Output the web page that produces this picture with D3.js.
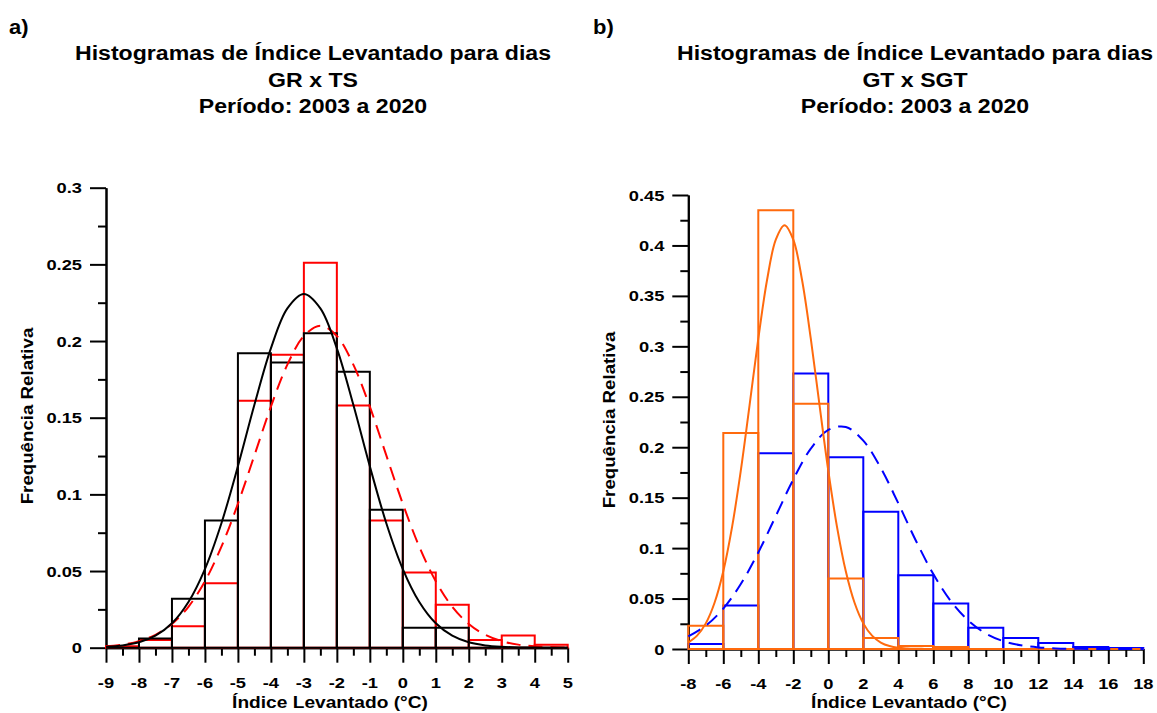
<!DOCTYPE html>
<html><head><meta charset="utf-8">
<script src="https://cdn.jsdelivr.net/npm/d3@7"></script>
<style>
body{margin:0;background:#fff}
svg{display:block}
text{font-family:"Liberation Sans",Arial,sans-serif;font-weight:bold;fill:#000}
</style>
</head><body>
<svg id="chart" width="1157" height="713"></svg>
<script>
// ---------- Panel a) GR x TS ----------
const binStartA = [-9,-8,-7,-6,-5,-4,-3,-2,-1,0,1,2,3,4];
const binWidthA = 1;
const blackFreqA = [0.000,0.006,0.032,0.083,0.192,0.186,0.205,0.180,0.090,0.013,0.013,0.000,0.000,0.000];
const redFreqA   = [0.001,0.005,0.014,0.042,0.161,0.191,0.251,0.158,0.083,0.049,0.028,0.005,0.008,0.002];
const fitXA = [-9,-8.5,-8,-7.5,-7,-6.5,-6,-5.5,-5,-4.5,-4,-3.5,-3,-2.5,-2,-1.5,-1,-0.5,0,0.5,1,1.5,2,2.5,3,3.5,4,4.5,5];
const blackFitA = [0.0006,0.0015,0.0035,0.0078,0.0159,0.0298,0.0513,0.0812,0.1183,0.1584,0.1952,0.2213,0.2307,0.2213,0.1952,0.1584,0.1183,0.0812,0.0513,0.0298,0.0159,0.0078,0.0035,0.0015,0.0006,0.0002,0.0001,0,0];
const redFitA = [0.0009,0.0020,0.0043,0.0084,0.0155,0.0267,0.0433,0.0659,0.0939,0.1254,0.1572,0.1846,0.2033,0.2100,0.2033,0.1846,0.1572,0.1254,0.0939,0.0659,0.0433,0.0267,0.0155,0.0084,0.0043,0.0020,0.0009,0.0004,0.0001];
const xTicksA = [-9,-8,-7,-6,-5,-4,-3,-2,-1,0,1,2,3,4,5];
const xMinorA = [-8.5,-7.5,-6.5,-5.5,-4.5,-3.5,-2.5,-1.5,-0.5,0.5,1.5,2.5,3.5,4.5];
const yTicksA = [0,0.05,0.1,0.15,0.2,0.25,0.3];
const yMinorA = [0.025,0.075,0.125,0.175,0.225,0.275];
const titleA = ["Histogramas de Índice Levantado para dias","GR x TS","Período: 2003 a 2020"];

// ---------- Panel b) GT x SGT ----------
const binStartB = [-8,-6,-4,-2,0,2,4,6,8,10,12,14,16];
const binWidthB = 2;
const blueFreqB   = [0.005,0.043,0.194,0.273,0.190,0.136,0.073,0.045,0.021,0.011,0.006,0.002,0.001];
const orangeFreqB = [0.023,0.214,0.435,0.243,0.070,0.011,0.003,0.002,0.000,0.000,0.000,0.000,0.000];
const fitXBlueB = [-8,-7,-6,-5,-4,-3,-2,-1,0,1,2,3,4,5,6,7,8,9,10,11,12,13,14,15,16,17,18];
const blueFitB = [0.0124,0.0231,0.0401,0.0644,0.0957,0.1318,0.1681,0.1986,0.2172,0.2201,0.2065,0.1794,0.1444,0.1076,0.0743,0.0475,0.0282,0.0154,0.0078,0.0037,0.0016,0.0006,0.0002,0.0001,0,0,0];
const fitXOrangeB = [-8,-7.5,-7,-6.5,-6,-5.5,-5,-4.5,-4,-3.5,-3,-2.5,-2,-1.5,-1,-0.5,0,0.5,1,1.5,2,2.5,3,3.5,4,4.5,5,5.5,6];
const orangeFitB = [0.0064,0.0132,0.0254,0.0458,0.0770,0.1208,0.1767,0.2414,0.3076,0.3657,0.4057,0.4200,0.4057,0.3657,0.3076,0.2414,0.1767,0.1208,0.0770,0.0458,0.0254,0.0132,0.0064,0.0029,0.0012,0.0005,0.0002,0.0001,0];
const xTicksB = [-8,-6,-4,-2,0,2,4,6,8,10,12,14,16,18];
const xMinorB = [-7,-5,-3,-1,1,3,5,7,9,11,13,15,17];
const yTicksB = [0,0.05,0.1,0.15,0.2,0.25,0.3,0.35,0.4,0.45];
const yMinorB = [0.025,0.075,0.125,0.175,0.225,0.275,0.325,0.375,0.425];
const titleB = ["Histogramas de Índice Levantado para dias","GT x SGT","Período: 2003 a 2020"];

const xLabel = "Índice Levantado (°C)";
const yLabel = "Frequência Relativa";

const svg = d3.select("#chart");

function stext(parent, x, y, str, size, sx, anchor, rot) {
  return parent.append("text")
    .attr("transform", `translate(${x},${y})` + (rot ? ` rotate(${rot})` : "") + ` scale(${sx},1)`)
    .attr("font-size", size)
    .attr("text-anchor", anchor || "middle")
    .text(str);
}

function panel(cfg) {
  const g = svg.append("g");
  const x = d3.scaleLinear().domain(cfg.xDomain).range([cfg.left, cfg.right]);
  const y = d3.scaleLinear().domain(cfg.yDomain).range([cfg.bottom, cfg.top]);

  const axStyle = sel => { sel.selectAll("path,line").attr("stroke","#000").attr("stroke-width",2); sel.selectAll("text").remove(); };
  g.append("g").attr("transform",`translate(0,${cfg.bottom})`)
    .call(d3.axisBottom(x).tickValues(cfg.xMinor).tickSize(8).tickSizeOuter(0).tickFormat("")).call(axStyle);
  g.append("g").attr("transform",`translate(0,${cfg.bottom})`)
    .call(d3.axisBottom(x).tickValues(cfg.xTicks).tickSize(15).tickSizeOuter(0).tickFormat("")).call(axStyle);
  g.append("g").attr("transform",`translate(${cfg.left},0)`)
    .call(d3.axisLeft(y).tickValues(cfg.yMinor).tickSize(8).tickSizeOuter(0).tickFormat("")).call(axStyle);
  g.append("g").attr("transform",`translate(${cfg.left},0)`)
    .call(d3.axisLeft(y).tickValues(cfg.yTicks).tickSize(16).tickSizeOuter(0).tickFormat("")).call(axStyle);

  cfg.xTicks.forEach(v => stext(g, x(v), cfg.bottom + 40, String(v), 15.5, 1.18, "middle"));
  cfg.yTicks.forEach(v => stext(g, cfg.left - 24, y(v) + 5.5, String(v), 15.5, 1.18, "end"));

  const barPath = (s, v) => `M${x(s)},${y(0)}V${y(v)}H${x(s + cfg.binWidth)}V${y(0)}Z`;
  cfg.bars.forEach(b => {
    g.append("g").selectAll("path").data(b.values).join("path")
      .attr("d", (v, i) => barPath(cfg.binStart[i], v))
      .attr("fill","none").attr("stroke", b.color).attr("stroke-width", 2);
  });

  cfg.curves.forEach(c => {
    const line = d3.line().x((d,i) => x(c.xs[i])).y(d => y(d)).curve(d3.curveCatmullRom);
    g.append("path").datum(c.values).attr("d", line)
      .attr("fill","none").attr("stroke", c.color).attr("stroke-width", 2)
      .attr("stroke-dasharray", c.dash || null);
  });

  const baselines = [60, 86.5, 113];
  cfg.title.forEach((t, i) => stext(g, cfg.titleX, baselines[i], t, 21, 1.1, "middle"));
  stext(g, cfg.tagX, 34, cfg.tag, 20, 1.1, "start");
  stext(g, cfg.xTitleX, 708, xLabel, 16.5, 1.16, "middle");
  stext(g, cfg.yTitleX, cfg.yTitleY, yLabel, 17, 1.1, "middle", -90);
}

panel({
  xDomain:[-9,5], yDomain:[0,0.3], left:106, right:567.7, top:187.7, bottom:647.7,
  xTicks:xTicksA, xMinor:xMinorA, yTicks:yTicksA, yMinor:yMinorA,
  binStart:binStartA, binWidth:binWidthA,
  bars:[{values:redFreqA,color:"#ff0000"},{values:blackFreqA,color:"#000000"}],
  curves:[{xs:fitXA,values:redFitA,color:"#ff0000",dash:"14,8"},{xs:fitXA,values:blackFitA,color:"#000000"}],
  title:titleA, titleX:313, tag:"a)", tagX:9, xTitleX:330, yTitleX:33, yTitleY:416
});

panel({
  xDomain:[-8,18], yDomain:[0,0.45], left:688.3, right:1143.3, top:195, bottom:649,
  xTicks:xTicksB, xMinor:xMinorB, yTicks:yTicksB, yMinor:yMinorB,
  binStart:binStartB, binWidth:binWidthB,
  bars:[{values:blueFreqB,color:"#0000ff"},{values:orangeFreqB,color:"#ff6a0d"}],
  curves:[{xs:fitXBlueB,values:blueFitB,color:"#0000ff",dash:"14,8"},{xs:fitXOrangeB,values:orangeFitB,color:"#ff6a0d"}],
  title:titleB, titleX:915, tag:"b)", tagX:593, xTitleX:909, yTitleX:615, yTitleY:420
});
</script>
</body></html>
